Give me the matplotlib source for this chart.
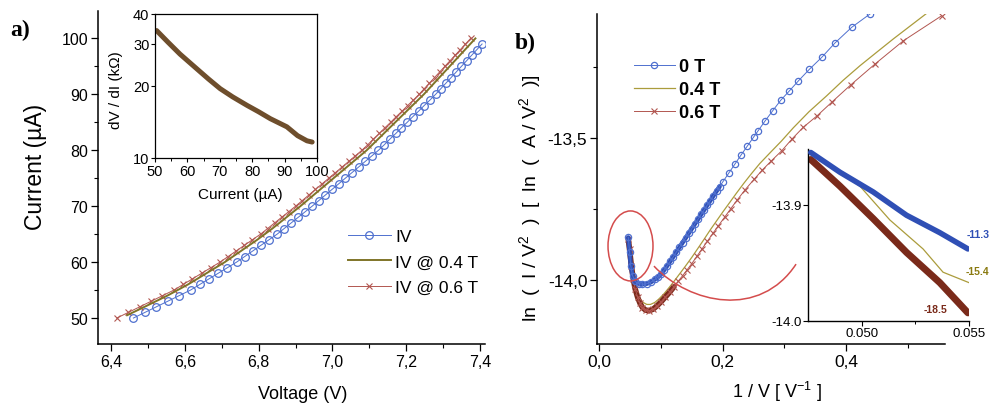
import matplotlib
matplotlib.use("Agg")
import matplotlib.pyplot as plt
import numpy as np
from matplotlib.patches import Ellipse, PathPatch
from matplotlib.path import Path
from matplotlib.ticker import MultipleLocator, FixedLocator, FuncFormatter, NullFormatter, NullLocator

plt.rcParams['font.family'] = ['Liberation Sans', 'DejaVu Sans']
plt.rcParams['axes.unicode_minus'] = False
plt.rcParams['mathtext.fontset'] = 'custom'
plt.rcParams['mathtext.rm'] = 'Liberation Sans'
plt.rcParams['mathtext.it'] = 'Liberation Sans:italic'
plt.rcParams['mathtext.bf'] = 'Liberation Sans:bold'

# ---------------- panel a: I-V curves ----------------
IV_CURRENT = [50, 51, 52, 53, 54, 55, 56, 57, 58, 59, 60, 61, 62, 63, 64, 65, 66, 67, 68, 69,
              70, 71, 72, 73, 74, 75, 76, 77, 78, 79, 80, 81, 82, 83, 84, 85, 86, 87, 88, 89,
              90, 91, 92, 93, 94, 95, 96, 97, 98, 99]
IV_VOLT = [6.460, 6.491, 6.522, 6.553, 6.584, 6.615, 6.640, 6.665, 6.690, 6.715,
           6.740, 6.762, 6.784, 6.806, 6.828, 6.850, 6.869, 6.888, 6.907, 6.926,
           6.945, 6.963, 6.981, 6.999, 7.017, 7.035, 7.053, 7.071, 7.089, 7.107,
           7.125, 7.141, 7.156, 7.172, 7.187, 7.203, 7.218, 7.234, 7.249, 7.265,
           7.280, 7.294, 7.308, 7.322, 7.336, 7.350, 7.364, 7.378, 7.392, 7.406]

IV04_CURRENT = [50.5, 52, 54, 56, 58, 60, 62, 64, 66, 68, 70, 72, 74, 76, 78, 80, 82, 84, 86,
                88, 90, 92, 94, 96, 98, 100]
IV04_VOLT = [6.443, 6.490, 6.552, 6.608, 6.658, 6.708, 6.752, 6.796, 6.837, 6.875, 6.913,
             6.949, 6.985, 7.021, 7.057, 7.093, 7.124, 7.155, 7.186, 7.217, 7.248, 7.276,
             7.304, 7.332, 7.360, 7.388]

IV06_CURRENT = [50, 51, 52, 53, 54, 55, 56, 57, 58, 59, 60, 61, 62, 63, 64, 65, 66, 67, 68, 69,
                70, 71, 72, 73, 74, 75, 76, 77, 78, 79, 80, 81, 82, 83, 84, 85, 86, 87, 88, 89,
                90, 91, 92, 93, 94, 95, 96, 97, 98, 99, 100]
IV06_VOLT = [6.415, 6.446, 6.477, 6.508, 6.539, 6.570, 6.595, 6.620, 6.645, 6.670,
             6.695, 6.717, 6.739, 6.761, 6.783, 6.805, 6.824, 6.843, 6.862, 6.881,
             6.900, 6.918, 6.936, 6.954, 6.972, 6.990, 7.008, 7.026, 7.044, 7.062,
             7.080, 7.096, 7.111, 7.127, 7.142, 7.158, 7.173, 7.189, 7.204, 7.220,
             7.235, 7.249, 7.263, 7.277, 7.291, 7.305, 7.319, 7.333, 7.347, 7.361, 7.375]

# differential resistance (inset of panel a)
DVDI_CURRENT = [50.5, 54.0, 57.7, 62.9, 66.5, 70.1, 74.0, 78.4, 82.0, 85.6, 90.7, 94.0, 96.9, 98.5]
DVDI_KOHM = [34.1, 30.5, 27.2, 23.6, 21.4, 19.5, 18.0, 16.6, 15.6, 14.6, 13.5, 12.4, 11.8, 11.66]

IV_LABELS = ['IV', 'IV @ 0.4 T', 'IV @ 0.6 T']

# ---------------- panel b: Fowler-Nordheim plot ----------------
T0_X = [0.047, 0.049, 0.051, 0.054, 0.058, 0.064, 0.070, 0.077, 0.084, 0.090, 0.095,
        0.100, 0.105, 0.110, 0.115, 0.120, 0.125, 0.130, 0.135, 0.140, 0.145, 0.150,
        0.155, 0.160, 0.165, 0.170, 0.175, 0.180, 0.185, 0.190, 0.195, 0.200, 0.210,
        0.220, 0.230, 0.240, 0.250, 0.2575, 0.2686, 0.281, 0.294, 0.308, 0.3225, 0.3404,
        0.3604, 0.382, 0.409, 0.4387, 0.470]
T0_Y = [-13.850, -13.900, -13.950, -13.985, -14.005, -14.013, -14.015, -14.013, -14.007,
        -13.998, -13.990, -13.980, -13.965, -13.950, -13.934, -13.918, -13.901, -13.885,
        -13.868, -13.852, -13.835, -13.819, -13.802, -13.786, -13.769, -13.753, -13.736,
        -13.720, -13.703, -13.687, -13.671, -13.655, -13.623, -13.591, -13.559, -13.528,
        -13.497, -13.474, -13.440, -13.404, -13.367, -13.334, -13.299, -13.258, -13.216,
        -13.165, -13.110, -13.063, -13.015]

T04_X = [0.047, 0.049, 0.052, 0.055, 0.058, 0.062, 0.066, 0.071, 0.077, 0.083, 0.090,
         0.097, 0.105, 0.113, 0.121, 0.130, 0.140, 0.150, 0.160, 0.170, 0.180, 0.190,
         0.200, 0.211, 0.222, 0.234, 0.246, 0.260, 0.2767, 0.295, 0.3144, 0.340, 0.3686,
         0.395, 0.4226, 0.450, 0.477, 0.504, 0.531, 0.545]
T04_Y = [-13.856, -13.889, -13.944, -13.988, -14.020, -14.047, -14.066, -14.079, -14.086,
         -14.086, -14.079, -14.066, -14.048, -14.027, -14.005, -13.979, -13.950, -13.920,
         -13.888, -13.856, -13.823, -13.792, -13.761, -13.728, -13.695, -13.660, -13.627,
         -13.590, -13.552, -13.511, -13.464, -13.407, -13.351, -13.297, -13.245, -13.197,
         -13.150, -13.105, -13.060, -13.037]

T06_X = [0.047, 0.049, 0.052, 0.055, 0.058, 0.062, 0.066, 0.070, 0.075, 0.081, 0.087,
         0.093, 0.100, 0.107, 0.114, 0.121, 0.128, 0.135, 0.142, 0.150, 0.158, 0.166,
         0.175, 0.184, 0.193, 0.203, 0.213, 0.224, 0.236, 0.251, 0.2645, 0.279, 0.2956,
         0.312, 0.3306, 0.3533, 0.3766, 0.4074, 0.447, 0.493, 0.555]
T06_Y = [-13.856, -13.891, -13.950, -13.995, -14.030, -14.060, -14.082, -14.097, -14.106,
         -14.108, -14.103, -14.092, -14.077, -14.060, -14.043, -14.024, -14.004, -13.985,
         -13.965, -13.942, -13.917, -13.892, -13.864, -13.836, -13.809, -13.779, -13.749,
         -13.717, -13.683, -13.645, -13.612, -13.580, -13.545, -13.504, -13.462, -13.421,
         -13.374, -13.313, -13.239, -13.157, -13.069]

FN_LABELS = ['0 T', '0.4 T', '0.6 T']

# high-field end (inset of panel b) and fitted slopes
Z0_X = [0.04763, 0.04899, 0.05054, 0.05209, 0.05364, 0.05495]
Z0_Y = [-13.855, -13.872, -13.889, -13.909, -13.924, -13.938]
Z04_X = [0.04763, 0.04899, 0.04992, 0.05131, 0.05286, 0.05379, 0.05500]
Z04_Y = [-13.855, -13.872, -13.884, -13.913, -13.938, -13.958, -13.967]
Z06_X = [0.04763, 0.04899, 0.05054, 0.05209, 0.05364, 0.05495]
Z06_Y = [-13.861, -13.884, -13.912, -13.941, -13.967, -13.993]
SLOPES = ['-11.3', '-15.4', '-18.5']

BLUE = '#4f70cf'
BLUE_DARK = '#2f4fb5'
OLIVE = '#7f7428'
OLIVE_LIGHT = '#ab9c3c'
RED = '#b25650'
RED_DARK = '#7a2a1a'
ANNOT = '#d44c4c'

W, H = 991, 410
fig = plt.figure(figsize=(W / 100, H / 100), dpi=100)


def px_axes(left, top, right, bottom):
    return fig.add_axes([left / W, 1 - bottom / H, (right - left) / W, (bottom - top) / H])


def comma(fmt):
    return FuncFormatter(lambda v, p: (fmt % v).replace('.', ','))


def style_ticks(ax, size):
    ax.tick_params(which='major', direction='out', length=5, width=0.9, labelsize=size, pad=2)
    ax.tick_params(which='minor', direction='out', length=3, width=0.8)
    for s in ('top', 'right'):
        ax.spines[s].set_visible(False)
    for s in ('left', 'bottom'):
        ax.spines[s].set_linewidth(1.1)


# ---------------- panel a ----------------
axa = px_axes(98, 12, 485, 345)
axa.plot(IV_VOLT, IV_CURRENT, '-o', color=BLUE, lw=0.7, ms=5.5, mfc='none', mew=0.9,
         label=IV_LABELS[0], zorder=2)
axa.plot(IV04_VOLT, IV04_CURRENT, '-', color=OLIVE, lw=1.4, label=IV_LABELS[1], zorder=3)
axa.plot(IV06_VOLT, IV06_CURRENT, '-x', color=RED, lw=0.7, ms=5, mew=0.8,
         label=IV_LABELS[2], zorder=2)
axa.set_xlim(6.364, 7.414)
axa.set_ylim(45.36, 104.9)
axa.xaxis.set_major_locator(MultipleLocator(0.2))
axa.xaxis.set_minor_locator(MultipleLocator(0.1))
axa.yaxis.set_major_locator(MultipleLocator(10))
axa.yaxis.set_minor_locator(MultipleLocator(5))
axa.xaxis.set_major_formatter(comma('%.1f'))
style_ticks(axa, 11.5)
axa.set_xlabel('Voltage (V)', fontsize=13)
axa.set_ylabel('Current (\u00b5A)', fontsize=16.5)
axa.xaxis.set_label_coords(0.529, -0.124)
axa.yaxis.set_label_coords(-0.131, 0.534)
axa.legend(loc='upper left', bbox_to_anchor=(0.645, 0.345), frameon=False, fontsize=12.5,
           handlelength=2.5, handletextpad=0.25, labelspacing=0.58, borderpad=0,
           borderaxespad=0, numpoints=1)

# inset: differential resistance
axi = px_axes(155, 15, 317, 159)
axi.plot(DVDI_CURRENT, DVDI_KOHM, '-', color='#6e4e2c', lw=3.6, solid_capstyle='round')
axi.set_yscale('log')
axi.set_xlim(50, 100)
axi.set_ylim(10, 40)
axi.xaxis.set_major_locator(MultipleLocator(10))
axi.xaxis.set_minor_locator(MultipleLocator(5))
axi.yaxis.set_major_locator(FixedLocator([10, 20, 30, 40]))
axi.yaxis.set_minor_locator(NullLocator())
axi.yaxis.set_major_formatter(FuncFormatter(lambda v, p: '%d' % round(v)))
axi.yaxis.set_minor_formatter(NullFormatter())
axi.tick_params(which='major', direction='out', length=3, width=0.8, labelsize=10.5, pad=1)
axi.tick_params(which='minor', direction='out', length=2, width=0.7)
for s in axi.spines.values():
    s.set_linewidth(0.9)
axi.set_xlabel('Current (\u00b5A)', fontsize=11)
axi.set_ylabel('dV / dI (k\u03a9)', fontsize=11)
axi.xaxis.set_label_coords(0.526, -0.2)
axi.yaxis.set_label_coords(-0.2, 0.48)

fig.text(10 / W, 1 - 30 / H, 'a)', fontsize=17, fontweight='bold',
         family=['Liberation Serif', 'DejaVu Serif'], va='center', ha='left')

# ---------------- panel b ----------------
axb = px_axes(597, 15, 945, 345)
t0x, t0y = np.array(T0_X), np.array(T0_Y)
t6x, t6y = np.array(T06_X), np.array(T06_Y)
axb.plot(T04_X, T04_Y, '-', color=OLIVE_LIGHT, lw=0.9, label=FN_LABELS[1], zorder=2)
band6 = t6x < 0.125
axb.plot(t6x[band6], t6y[band6], '-', color=RED_DARK, lw=4.0, solid_capstyle='round', zorder=3)
axb.plot(T06_X, T06_Y, '-x', color=RED, lw=0.7, ms=4.5, mew=0.8, label=FN_LABELS[2], zorder=3)
band0 = t0x < 0.2
axb.plot(t0x[band0], t0y[band0], '-', color=BLUE_DARK, lw=3.2, solid_capstyle='round', zorder=4)
axb.plot(T0_X, T0_Y, '-o', color=BLUE, lw=0.7, ms=4.5, mfc='none', mew=0.9,
         label=FN_LABELS[0], zorder=4)
axb.set_xlim(-0.0037, 0.5603)
axb.set_ylim(-14.2254, -13.063)
axb.xaxis.set_major_locator(MultipleLocator(0.2))
axb.xaxis.set_minor_locator(MultipleLocator(0.1))
axb.yaxis.set_major_locator(MultipleLocator(0.5))
axb.yaxis.set_minor_locator(MultipleLocator(0.25))
axb.xaxis.set_major_formatter(comma('%.1f'))
axb.yaxis.set_major_formatter(comma('%.1f'))
style_ticks(axb, 12.5)
axb.set_xlabel('1 / V [ V$^{-1}$ ]', fontsize=13)
axb.set_ylabel('ln  (  I / V$^{2}$  )  [  ln  (  A / V$^{2}$  )]', fontsize=14)
axb.xaxis.set_label_coords(0.516, -0.105)
axb.yaxis.set_label_coords(-0.156, 0.445)
handles, labels = axb.get_legend_handles_labels()
order = [labels.index(l) for l in FN_LABELS]
leg = axb.legend([handles[i] for i in order], FN_LABELS, loc='upper left',
                 bbox_to_anchor=(0.105, 0.866), frameon=False,
                 prop={'size': 13, 'weight': 'bold'}, handlelength=2.3, handletextpad=0.2,
                 labelspacing=0.33, borderpad=0, borderaxespad=0, numpoints=1)

# hand-drawn marking of the high-field end
axb.add_patch(Ellipse((0.0506, -13.880), 0.0729, 0.2465, fill=False, ec=ANNOT, lw=1.1, zorder=5))
arc = Path([(0.0886, -13.951), (0.1470, -14.085), (0.2605, -14.137), (0.3189, -13.944)],
           [Path.MOVETO, Path.CURVE4, Path.CURVE4, Path.CURVE4])
axb.add_patch(PathPatch(arc, fill=False, ec=ANNOT, lw=1.1, zorder=5))

fig.text(515 / W, 1 - 43 / H, 'b)', fontsize=17, fontweight='bold',
         family=['Liberation Serif', 'DejaVu Serif'], va='center', ha='left')

# inset: zoom on the high-field end
axz = px_axes(808, 150, 969, 322)
axz.set_facecolor('none')
axz.plot(Z06_X, Z06_Y, '-', color=RED_DARK, lw=5.0, solid_capstyle='round', zorder=2)
axz.plot(Z04_X, Z04_Y, '-', color=OLIVE_LIGHT, lw=0.9, zorder=3)
axz.plot(Z0_X, Z0_Y, '-', color=BLUE_DARK, lw=4.0, solid_capstyle='round', zorder=4)
axz.set_xlim(0.0475, 0.0550)
axz.set_ylim(-14.0, -13.852)
axz.xaxis.set_major_locator(FixedLocator([0.050, 0.055]))
axz.xaxis.set_minor_locator(FixedLocator([0.0525]))
axz.yaxis.set_major_locator(FixedLocator([-13.9, -14.0]))
axz.xaxis.set_major_formatter(FuncFormatter(lambda v, p: '%.3f' % v))
axz.yaxis.set_major_formatter(FuncFormatter(lambda v, p: '%.1f' % v))
axz.tick_params(which='major', direction='out', length=3.5, width=0.8, labelsize=9.5, pad=1)
axz.tick_params(which='minor', direction='out', length=2.5, width=0.7)
for s in ('top', 'right'):
    axz.spines[s].set_visible(False)
for s in ('left', 'bottom'):
    axz.spines[s].set_linewidth(1.0)
slope_cols = [BLUE_DARK, '#8a7a10', RED_DARK]
slope_pos = [(0.05596, -13.925), (0.05596, -13.957), (0.05401, -13.990)]
for txt, (sx, sy), c in zip(SLOPES, slope_pos, slope_cols):
    axz.text(sx, sy, txt, color=c, fontsize=7.5, fontweight='bold', ha='right', va='center',
             clip_on=False)

fig.savefig('out.png', dpi=100)
